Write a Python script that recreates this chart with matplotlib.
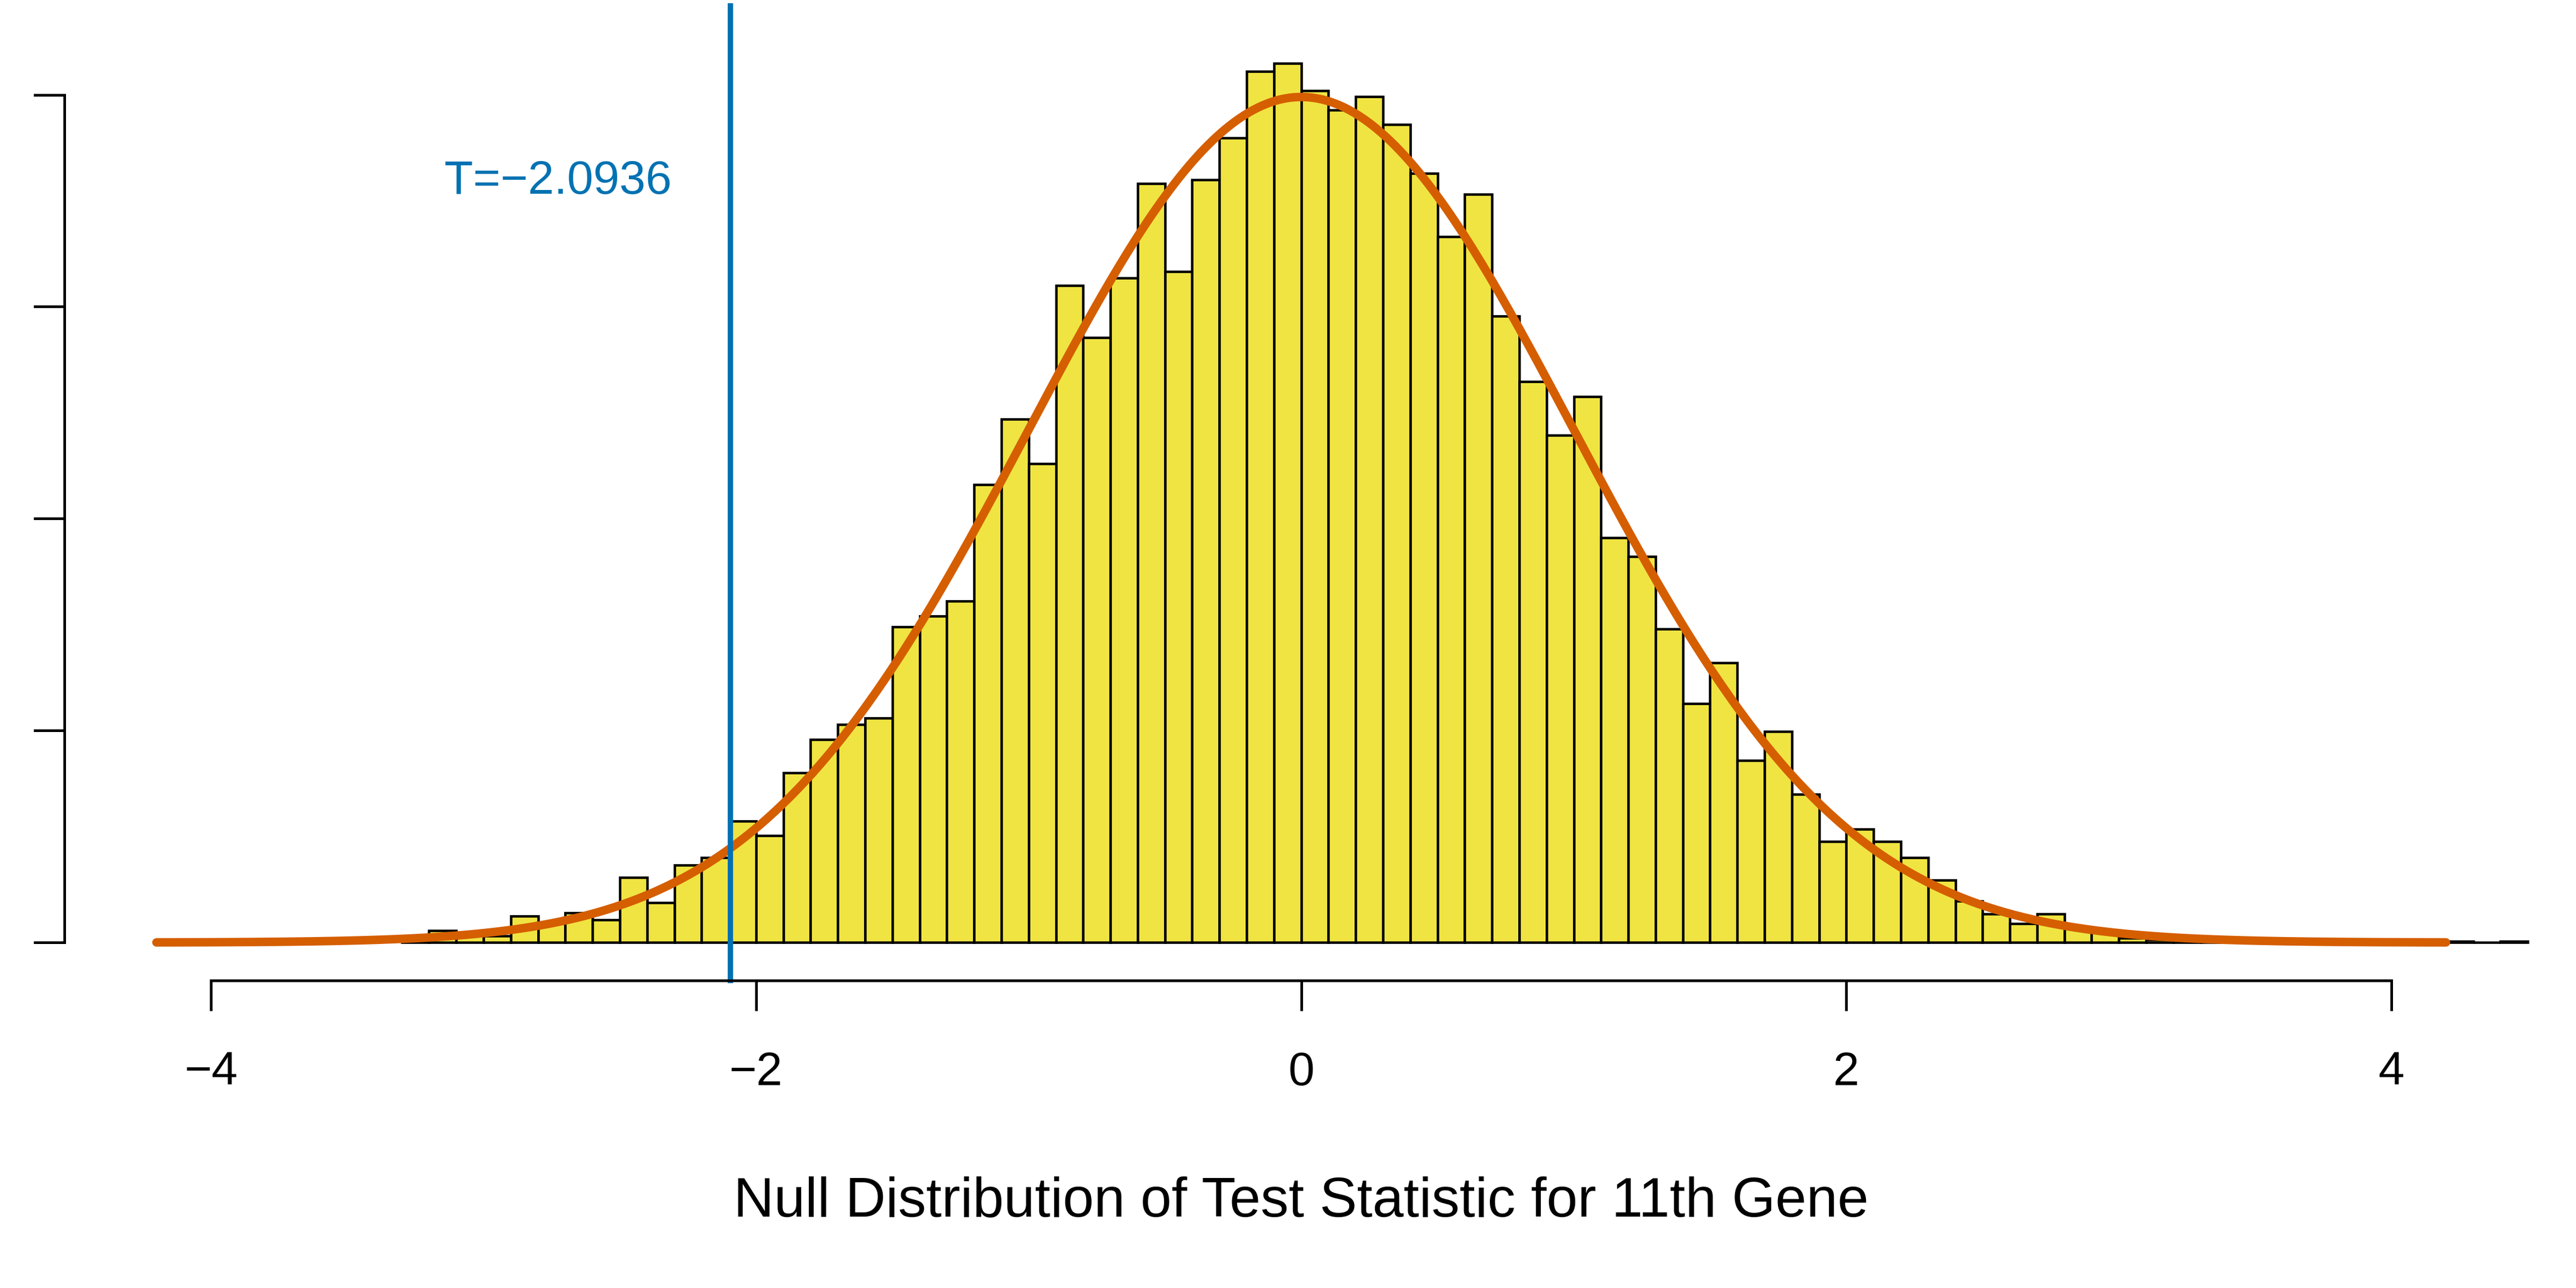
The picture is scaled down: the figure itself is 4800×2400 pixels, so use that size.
import numpy as np
import matplotlib.pyplot as plt
from matplotlib.lines import Line2D

plt.rcParams['font.family'] = ['Liberation Sans', 'DejaVu Sans']

# histogram of the permutation null distribution (density, bin width 0.1)
bin_start = -3.3
bin_width = 0.1
density = [
    0.001, 0.0056, 0.005, 0.003, 0.0125, 0.009, 0.014, 0.0106, 0.0306, 0.0187,
    0.0365, 0.040, 0.0574, 0.0504, 0.080, 0.0958, 0.1028, 0.1058, 0.149, 0.154,
    0.161, 0.216, 0.247, 0.226, 0.310, 0.2855, 0.3136, 0.358, 0.3167, 0.360,
    0.3797, 0.411, 0.4148,
    0.402, 0.3928, 0.399, 0.386, 0.363, 0.333, 0.353, 0.2955, 0.2646, 0.2393,
    0.2577, 0.191, 0.182, 0.148, 0.1128, 0.132, 0.0858, 0.0997, 0.0699, 0.0476,
    0.0535, 0.0476, 0.040, 0.0295, 0.0195, 0.0134, 0.0089, 0.0136, 0.007, 0.0045,
    0.002, 0.0014, 0.001, 0.0008, 0.0006, 0.0, 0.0, 0.0, 0.0, 0.0, 0.0, 0.0,
    0.0006, 0.0, 0.0006,
]
t_obs = -2.0936
x_ticks = [-4, -2, 0, 2, 4]
y_ticks = [0, 0.1, 0.2, 0.3, 0.4]

fig = plt.figure(figsize=(16, 8), dpi=300)
ax = fig.add_axes([0, 0, 1, 1])
ax.set_xlim(-4.774, 4.677)
ax.set_ylim(-0.163, 0.4447)
ax.axis('off')

edges = bin_start + bin_width * np.arange(len(density))
ax.bar(edges, density, width=bin_width, align='edge', color='#F0E442',
       edgecolor='black', linewidth=1.1)

xs = np.linspace(-4.2, 4.2, 500)
ax.plot(xs, np.exp(-xs ** 2 / 2) / np.sqrt(2 * np.pi), color='#D55E00', lw=3.8,
        solid_capstyle='round')

ax.add_line(Line2D([t_obs, t_obs], [-0.018, 0.442], color='#0072B2', lw=2.4,
                   clip_on=False))
ax.text(-2.31, 0.359, 'T=\u22122.0936', color='#0072B2', fontsize=21,
        ha='right', va='center')

# R-style detached axes
ax.add_line(Line2D([-4, 4], [-0.018, -0.018], color='black', lw=1.2))
for t in x_ticks:
    ax.add_line(Line2D([t, t], [-0.018, -0.0315], color='black', lw=1.2))
    ax.text(t, -0.0615, str(t).replace('-', '\u2212'), fontsize=21,
            ha='center', va='center')
ax.add_line(Line2D([-4.537, -4.537], [0, 0.4], color='black', lw=1.2))
for t in y_ticks:
    ax.add_line(Line2D([-4.537, -4.646], [t, t], color='black', lw=1.2))

ax.text(0, -0.1224, 'Null Distribution of Test Statistic for 11th Gene',
        fontsize=25, ha='center', va='center')

fig.savefig('out.png', dpi=300)
